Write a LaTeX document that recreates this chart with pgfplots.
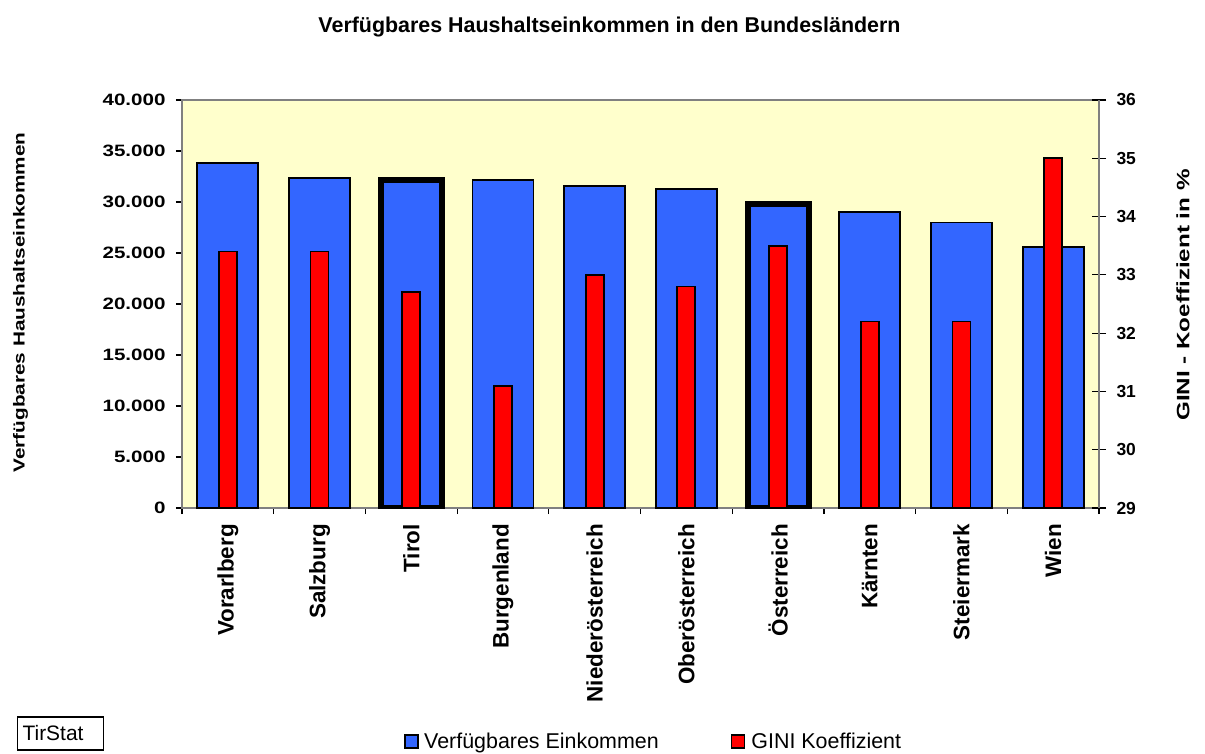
\documentclass[border=0pt]{standalone}
\usepackage{pgfplots}
\pgfplotsset{compat=1.18}
\usepackage{graphicx}
\usepackage{fontspec}
\setmainfont{Liberation Sans}

\definecolor{incblue}{HTML}{3366FF}
\definecolor{ginired}{HTML}{FF0000}
\definecolor{plotbg}{HTML}{FFFFCC}
\definecolor{framegray}{HTML}{808080}

% horizontal stretch of a piece of text
\newcommand{\wide}[2]{\scalebox{#1}[1]{#2}}

\pgfplotsset{
  chartbase/.style={
    scale only axis, width=917bp, height=408bp,
    at={(0bp,0bp)}, anchor=south west,
    xmin=-0.5, xmax=9.5,
    /pgf/number format/assume math mode=true,
    axis line style={draw=framegray, line width=1.4bp},
    tick style={black, line width=1.2bp},
  },
  sqlegend/.style={legend image code/.code={
    \draw[##1, line width=1.6bp] (0bp,-6.5bp) rectangle (13bp,6.5bp);
    \path (17bp,0bp);}},
}

\begin{document}
\begin{tikzpicture}
\path[use as bounding box] (-182bp,-246bp) rectangle (1023bp,508bp);

% income, left axis
\begin{axis}[chartbase,
  clip mode=individual,
  ymin=0, ymax=40000,
  ytick={0,5000,...,40000},
  scaled y ticks=false,
  yticklabel={\wide{1.25}{\pgfmathprintnumber[fixed,1000 sep={.}]{\tick}}},
  yticklabel style={font=\fontsize{16.5}{18}\selectfont\bfseries, xshift=-7bp},
  axis background/.style={fill=plotbg},
  tick align=outside, xtick pos=bottom, ytick pos=left,
  major tick length=6bp,
  xtick={-0.5,0.5,...,9.5}, xticklabels={},
  extra x ticks={0,1,2,3,4,5,6,7,8,9},
  extra x tick labels={Vorarlberg,Salzburg,Tirol,Burgenland,Niederösterreich,Oberösterreich,Österreich,Kärnten,Steiermark,Wien},
  extra x tick style={major tick length=0pt},
  xticklabel style={rotate=90, anchor=east, inner ysep=0pt, inner xsep=16bp,
    font=\fontsize{22.5}{24}\selectfont\bfseries},
  ylabel={\wide{1.3}{Verfügbares Haushaltseinkommen}},
  ylabel style={at={(axis description cs:-0.1761,0.5037)}, anchor=center,
    font=\fontsize{16}{18}\selectfont\bfseries},
  title={Verfügbares Haushaltseinkommen in den Bundesländern},
  title style={at={(axis description cs:0.4662,1.1642)}, anchor=center,
    font=\fontsize{21.5}{24}\selectfont\bfseries},
  ybar, bar width=61bp,
]
\addplot[fill=incblue, draw=black, line width=1.8bp, bar shift=0pt] coordinates {
  (0,33800) (1,32350) (2,32200) (3,32150) (4,31570)
  (5,31280) (6,29800) (7,29050) (8,28000) (9,25600)};
% highlighted bars (Tirol, Österreich)
\addplot[fill=incblue, draw=black, line width=6bp, bar shift=0pt] coordinates {
  (2,32200) (6,29800)};
\node[draw=black, line width=1.2bp, anchor=west, minimum height=33bp, inner xsep=5bp,
  font=\fontsize{21}{24}\selectfont] at (axis description cs:-0.1799,-0.5527)
  {TirStat\hspace*{15bp}};
\end{axis}

% GINI, right axis
\begin{axis}[chartbase,
  ymin=29, ymax=36, ytick={29,30,...,36},
  axis x line=none, axis y line*=right,
  tick align=center, major tick length=14bp,
  yticklabel style={font=\fontsize{17.5}{18}\selectfont\bfseries, xshift=7bp},
  ylabel={\wide{1.35}{GINI - Koeffizient in \%}},
  ylabel style={at={(axis description cs:1.0916,0.522)}, anchor=center,
    font=\fontsize{18}{20}\selectfont\bfseries},
  ybar, bar width=18bp,
  legend columns=2,
  legend style={at={(axis description cs:0.2421,-0.5723)}, anchor=west,
    draw=none, fill=none, inner sep=0pt,
    font=\fontsize{21.5}{24}\selectfont,
    /tikz/every even column/.append style={column sep=70bp}},
]
\addlegendimage{fill=incblue, draw=black, sqlegend}
\addlegendentry{Verfügbares Einkommen}
\addplot[fill=ginired, draw=black, line width=1.8bp, bar shift=0pt, sqlegend]
  coordinates {
  (0,33.4) (1,33.4) (2,32.7) (3,31.1) (4,33.0)
  (5,32.8) (6,33.5) (7,32.2) (8,32.2) (9,35.0)};
\addlegendentry{GINI Koeffizient}
\end{axis}
\end{tikzpicture}
\end{document}
